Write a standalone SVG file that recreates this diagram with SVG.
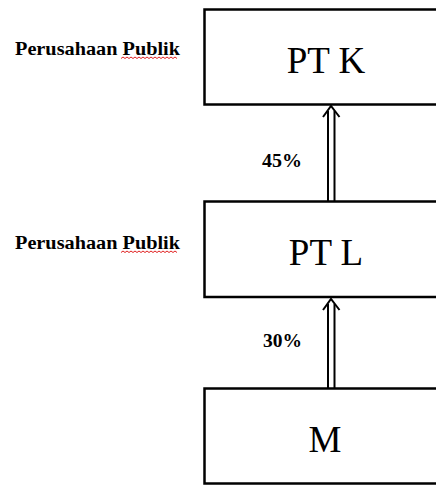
<svg xmlns="http://www.w3.org/2000/svg" width="436" height="485" viewBox="0 0 436 485">
<style>
.box{fill:#fff;stroke:#000;stroke-width:2.5}
.name{font-family:"Liberation Serif",serif;font-size:37px;text-anchor:middle;fill:#000}
.lbl{font-family:"Liberation Serif",serif;font-weight:bold;font-size:18px;fill:#000}
.pct{font-family:"Liberation Serif",serif;font-weight:bold;font-size:18px;fill:#000}
.wl{fill:none;stroke:#000;stroke-width:2}
.sq{fill:none;stroke:#e02020;stroke-width:1}
</style>
<rect width="436" height="485" fill="#fff"/>
<g id="connectors">
  <g id="arrow-L-K">
    <line class="wl" x1="328" y1="201" x2="328" y2="111"/>
    <line class="wl" x1="334.5" y1="201" x2="334.5" y2="111"/>
    <path class="wl" d="M323,117 L331,106 L339.5,117"/>
  </g>
  <g id="arrow-M-L">
    <line class="wl" x1="328" y1="388" x2="328" y2="304"/>
    <line class="wl" x1="334.5" y1="388" x2="334.5" y2="304"/>
    <path class="wl" d="M323,310 L331,299 L339.5,310"/>
  </g>
  <text class="pct" x="262" y="167" textLength="40" lengthAdjust="spacingAndGlyphs">45%</text>
  <text class="pct" x="263" y="347" textLength="39" lengthAdjust="spacingAndGlyphs">30%</text>
</g>
<g id="node-K">
  <rect class="box" x="204.5" y="9.5" width="240" height="95"/>
  <text class="name" x="326" y="73">PT K</text>
</g>
<g id="node-L">
  <rect class="box" x="204.5" y="201.5" width="240" height="95.5"/>
  <text class="name" x="326" y="265">PT L</text>
</g>
<g id="node-M">
  <rect class="box" x="204.5" y="388.5" width="240" height="95"/>
  <text class="name" x="325" y="452">M</text>
</g>
<g id="label-K">
  <text class="lbl" x="15" y="55" textLength="165" lengthAdjust="spacingAndGlyphs">Perusahaan Publik</text>
  <path class="sq" d="M121,58.5 l2,-1.5 l2,1.5 l2,-1.5 l2,1.5 l2,-1.5 l2,1.5 l2,-1.5 l2,1.5 l2,-1.5 l2,1.5 l2,-1.5 l2,1.5 l2,-1.5 l2,1.5 l2,-1.5 l2,1.5 l2,-1.5 l2,1.5 l2,-1.5 l2,1.5 l2,-1.5 l2,1.5 l2,-1.5 l2,1.5 l2,-1.5 l2,1.5 l2,-1.5 l2,1.5"/>
</g>
<g id="label-L">
  <text class="lbl" x="15" y="249" textLength="165" lengthAdjust="spacingAndGlyphs">Perusahaan Publik</text>
  <path class="sq" d="M121,252.5 l2,-1.5 l2,1.5 l2,-1.5 l2,1.5 l2,-1.5 l2,1.5 l2,-1.5 l2,1.5 l2,-1.5 l2,1.5 l2,-1.5 l2,1.5 l2,-1.5 l2,1.5 l2,-1.5 l2,1.5 l2,-1.5 l2,1.5 l2,-1.5 l2,1.5 l2,-1.5 l2,1.5 l2,-1.5 l2,1.5 l2,-1.5 l2,1.5 l2,-1.5 l2,1.5"/>
</g>
</svg>
